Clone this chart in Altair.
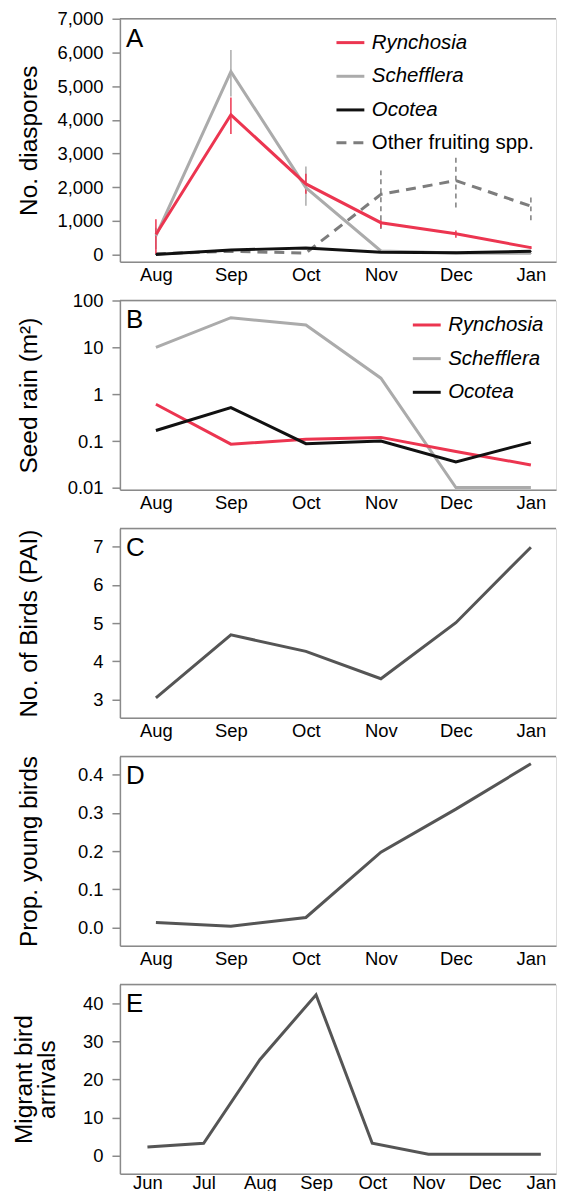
import json
import altair as alt
import pandas as pd

FONT = "Liberation Sans"

months6 = ["Aug", "Sep", "Oct", "Nov", "Dec", "Jan"]
months8 = ["Jun", "Jul", "Aug", "Sep", "Oct", "Nov", "Dec", "Jan"]
species = ["Rynchosia", "Schefflera", "Ocotea"]
other_name = "Other fruiting spp."

# Panel A: number of diaspores (mean, lower, upper)
ryn_diaspores = [600, 4150, 2100, 950, 620, 210]
ryn_lo = [20, 3580, 1810, 800, 500, 170]
ryn_hi = [1050, 4660, 2400, 1020, 720, 250]
sch_diaspores = [560, 5430, 1990, 110, 50, 40]
sch_lo = [170, 4690, 1450, 70, 30, 20]
sch_hi = [800, 6070, 2620, 150, 70, 60]
oco_diaspores = [10, 140, 200, 70, 60, 100]
oco_lo = [0, 110, 170, 50, 40, 80]
oco_hi = [20, 170, 230, 90, 80, 120]
oth_diaspores = [30, 100, 50, 1790, 2200, 1440]
oth_lo = [30, 100, 50, 760, 1400, 1020]
oth_hi = [30, 100, 50, 2500, 2970, 1770]

# Panel B: seed rain (per m2)
ryn_rain = [0.61, 0.086, 0.11, 0.12, 0.06, 0.031]
sch_rain = [10, 43, 30, 2.2, 0.0102, 0.0102]
oco_rain = [0.168, 0.52, 0.088, 0.1, 0.036, 0.094]

# Panel C: number of birds (PAI)
birds_pai = [3.04, 4.69, 4.26, 3.54, 5.01, 6.99]
# Panel D: proportion of young birds
prop_young = [0.013, 0.003, 0.026, 0.197, 0.31, 0.429]
# Panel E: migrant bird arrivals
migrant_arrivals = [2.2, 3.2, 25.2, 42.3, 3.2, 0.3, 0.3, 0.3]

RED = "#ec3550"
LGRAY = "#ababab"
BLACK = "#111111"
DGRAY = "#7d7d7d"
LINE = "#555555"
AX = "#8a8a8a"

W = 438
HA = 244
H = 190
TICKF = 18.5
TITLEF = 24.5
LEGF = 20.5


def xenc(months, domain, lpad=4):
    expr = json.dumps(months) + "[datum.value]"
    return alt.X("idx:Q", scale=alt.Scale(domain=domain, nice=False, zero=False),
                 axis=alt.Axis(title=None, ticks=False, labelPadding=lpad, labelAngle=0,
                               values=list(range(len(months))), labelExpr=expr,
                               domainColor=AX, domainWidth=1.5, labelFontSize=TICKF,
                               labelColor="black", labelFont=FONT, grid=False,
                               labelFlush=False, labelOverlap=False))


def yaxis(title, values, fmt=None, tx=-91, h=H):
    kw = dict(title=title, values=values, tickSize=8, tickColor=AX, tickWidth=1.5,
              domainColor=AX, domainWidth=1.5, labelPadding=9, labelFontSize=TICKF,
              labelFont=FONT, labelColor="black", grid=False, titleFontSize=TITLEF,
              titleFont=FONT, titleFontWeight="normal", titleColor="black",
              titleX=tx, titleY=h / 2, titleAlign="center", titleBaseline="middle",
              titleAngle=270, titleLineHeight=23)
    if fmt:
        kw["format"] = fmt
    return alt.Axis(**kw)


def frame_top(w):
    return alt.Chart(pd.DataFrame({"a": [0]})).mark_rule(color=AX, strokeWidth=1.5).encode(
        x=alt.value(0), x2=alt.value(w), y=alt.value(0))


def letter(t):
    return alt.Chart(pd.DataFrame({"t": [t]})).mark_text(
        align="left", baseline="top", fontSize=26, font=FONT, color="black").encode(
        text="t:N", x=alt.value(6), y=alt.value(7))


def species_legend(x, y):
    return alt.Legend(title=None, orient="none", legendX=x, legendY=y, symbolType="stroke",
                      symbolSize=784, symbolStrokeWidth=3, labelFontSize=LEGF,
                      labelFontStyle="italic", labelFont=FONT, labelColor="black",
                      labelOffset=6, rowPadding=7.8, padding=0, labelLimit=250)


color_scale = alt.Scale(domain=species, range=[RED, LGRAY, BLACK])
DOM6 = [-0.48, 5.335]
DOM8 = [-0.49, 7.27]

# ---------- Panel A ----------
rows = []
for name, m, lo, hi in [("Schefflera", sch_diaspores, sch_lo, sch_hi),
                        ("Rynchosia", ryn_diaspores, ryn_lo, ryn_hi),
                        ("Ocotea", oco_diaspores, oco_lo, oco_hi)]:
    for i, mo in enumerate(months6):
        rows.append({"idx": i, "month": mo, "series": name, "value": m[i], "lo": lo[i], "hi": hi[i]})
dfA = pd.DataFrame(rows)
dfO = pd.DataFrame({"idx": list(range(6)), "month": months6, "series": [other_name] * 6,
                    "value": oth_diaspores, "lo": oth_lo, "hi": oth_hi})

scaleA = alt.Scale(domain=[-206, 7000], nice=False, zero=False)
axisA = yaxis("No. diaspores", [0, 1000, 2000, 3000, 4000, 5000, 6000, 7000], fmt=",.0f", h=HA)
xA = xenc(months6, DOM6)
legA = species_legend(216, 8.5)

other_line = alt.Chart(dfO).mark_line(strokeWidth=3, color=DGRAY).encode(
    x=xA, y=alt.Y("value:Q", scale=scaleA, axis=axisA),
    strokeDash=alt.StrokeDash("series:N", scale=alt.Scale(domain=[other_name], range=[[10, 7]]),
                              legend=alt.Legend(title=None, orient="none", legendX=216, legendY=109,
                                                symbolType="stroke", symbolSize=784,
                                                symbolStrokeWidth=3, symbolStrokeColor=DGRAY,
                                                labelFontSize=LEGF, labelFont=FONT, labelLimit=250,
                                                labelColor="black", labelOffset=6, padding=0)))
other_err = alt.Chart(dfO).mark_rule(strokeWidth=1.5, color=DGRAY, strokeDash=[5, 4]).encode(
    x=xA, y=alt.Y("lo:Q", scale=scaleA, axis=axisA), y2="hi:Q")
sp_err = alt.Chart(dfA).mark_rule(strokeWidth=1.5).encode(
    x=xA, y=alt.Y("lo:Q", scale=scaleA, axis=axisA), y2="hi:Q",
    color=alt.Color("series:N", scale=color_scale, legend=legA))
sp_line = alt.Chart(dfA).mark_line(strokeWidth=3).encode(
    x=xA, y=alt.Y("value:Q", scale=scaleA, axis=axisA),
    color=alt.Color("series:N", scale=color_scale, legend=legA))

panelA = alt.layer(other_line, other_err, sp_err, sp_line, frame_top(W), letter("A")).properties(
    width=W, height=HA)

# ---------- Panel B ----------
rows = []
for name, v in [("Schefflera", sch_rain), ("Rynchosia", ryn_rain), ("Ocotea", oco_rain)]:
    for i, mo in enumerate(months6):
        rows.append({"idx": i, "month": mo, "series": name, "value": v[i]})
dfB = pd.DataFrame(rows)
lineB = alt.Chart(dfB).mark_line(strokeWidth=3).encode(
    x=xenc(months6, DOM6),
    y=alt.Y("value:Q", scale=alt.Scale(type="log", domain=[0.0092, 100], nice=False),
            axis=yaxis("Seed rain (m²)", [0.01, 0.1, 1, 10, 100], fmt="~g")),
    color=alt.Color("series:N", scale=color_scale, legend=species_legend(292.7, 9.1)))
panelB = alt.layer(lineB, frame_top(W), letter("B")).properties(width=W, height=H)

# ---------- Panel C ----------
dfC = pd.DataFrame({"idx": list(range(6)), "month": months6, "value": birds_pai})
lineC = alt.Chart(dfC).mark_line(strokeWidth=3, color=LINE).encode(
    x=xenc(months6, DOM6),
    y=alt.Y("value:Q", scale=alt.Scale(domain=[2.52, 7.48], nice=False, zero=False),
            axis=yaxis("No. of Birds (PAI)", [3, 4, 5, 6, 7])))
panelC = alt.layer(lineC, frame_top(W), letter("C")).properties(width=W, height=H)

# ---------- Panel D ----------
dfD = pd.DataFrame({"idx": list(range(6)), "month": months6, "value": prop_young})
lineD = alt.Chart(dfD).mark_line(strokeWidth=3, color=LINE).encode(
    x=xenc(months6, DOM6),
    y=alt.Y("value:Q", scale=alt.Scale(domain=[-0.048, 0.448], nice=False, zero=False),
            axis=yaxis("Prop. young birds", [0, 0.1, 0.2, 0.3, 0.4], fmt=".1f")))
panelD = alt.layer(lineD, frame_top(W), letter("D")).properties(width=W, height=H)

# ---------- Panel E ----------
dfE = pd.DataFrame({"idx": list(range(8)), "month": months8, "value": migrant_arrivals})
lineE = alt.Chart(dfE).mark_line(strokeWidth=3, color=LINE).encode(
    x=xenc(months8, DOM8, lpad=0),
    y=alt.Y("value:Q", scale=alt.Scale(domain=[-4.8, 45], nice=False, zero=False),
            axis=yaxis(["Migrant bird", "arrivals"], [0, 10, 20, 30, 40], tx=-96)))
panelE = alt.layer(lineE, frame_top(W), letter("E")).properties(width=W, height=H)

chart = alt.vconcat(panelA, panelB, panelC, panelD, panelE, spacing=39, bounds="flush").resolve_scale(
    color="independent", strokeDash="independent"
).resolve_legend(color="independent", strokeDash="independent").properties(
    padding={"left": 2.4, "top": -1.8, "right": 0, "bottom": -4.5}
).configure_view(stroke=None).configure(font=FONT)

chart.save("out.html", embed_options={"renderer": "svg", "actions": False})
